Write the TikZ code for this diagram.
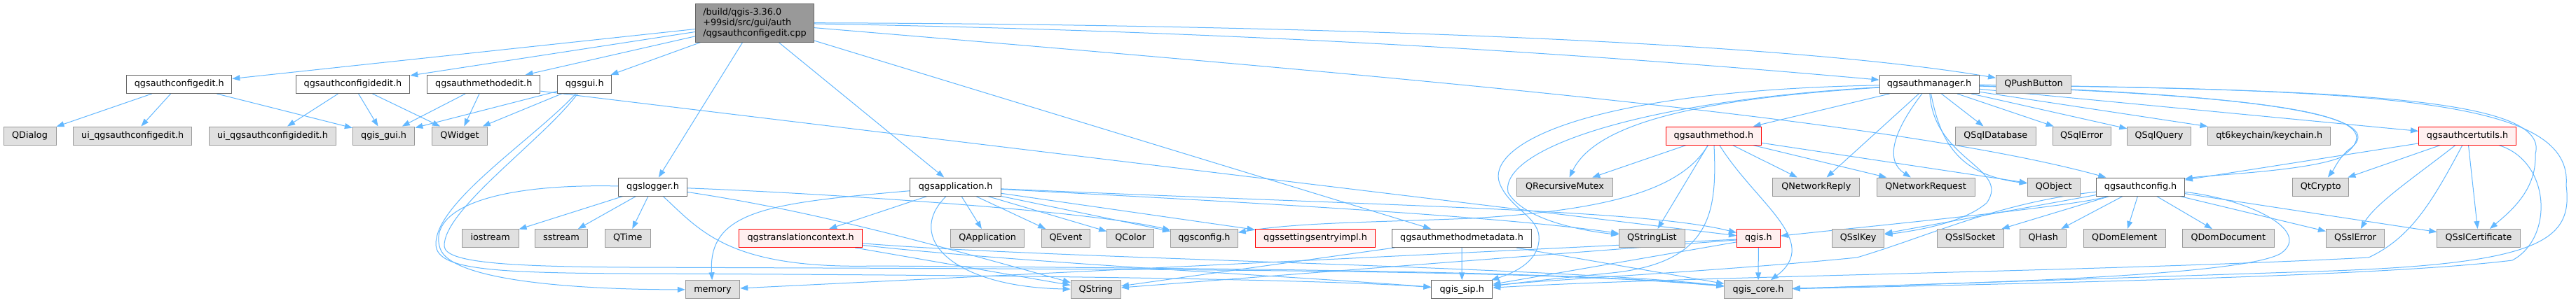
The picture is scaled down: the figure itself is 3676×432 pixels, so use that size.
\documentclass[tikz,border=0pt]{standalone}
\usepackage{fontspec}
\setmainfont{DejaVu Sans}
\usetikzlibrary{arrows.meta}
\definecolor{edgec}{HTML}{63B8FF}
\definecolor{bordsix}{HTML}{666666}
\definecolor{bordnine}{HTML}{999999}
\definecolor{fillgrey}{HTML}{E0E0E0}
\definecolor{fillred}{HTML}{FFF0F0}
\definecolor{rootfill}{HTML}{999999}
\pgfdeclarelayer{edges}
\pgfsetlayers{edges,main}
\tikzset{
  box/.style={draw, line width=1pt, minimum height=26pt, inner sep=0pt,
    text height=9.4pt, text depth=2.6pt, font=\fontsize{12.8}{15}\selectfont},
  doc/.style={box, draw=bordsix, fill=white},
  ext/.style={box, draw=bordnine, fill=fillgrey},
  trunc/.style={box, draw=red, fill=fillred},
  rootn/.style={draw=bordsix, fill=rootfill, line width=1pt, minimum height=55pt,
    minimum width=169pt, inner sep=0pt, align=left, font=\fontsize{12.8}{15}\selectfont},
  dep/.style={draw=edgec, line width=1pt, -{Triangle[length=11pt,width=8pt]}},
}
\begin{document}
\begin{tikzpicture}[x=1pt,y=-1pt]
\useasboundingbox (0,0) rectangle (3676,432);
% row 0
\node[rootn] (root) at (1077,32.5) {/build/qgis-3.36.0\\+99sid/src/gui/auth\\/qgsauthconfigedit.cpp};
% row 1
\node[doc, minimum width=150pt] (cfgedit) at (255.8,120.5) {qgsauthconfigedit.h};
\node[doc, minimum width=162.5pt] (cfgidedit) at (503.5,120.5) {qgsauthconfigidedit.h};
\node[doc, minimum width=161pt] (methedit) at (690.3,120.5) {qgsauthmethodedit.h};
\node[doc, minimum width=77pt] (gui) at (834.2,120.5) {qgsgui.h};
\node[doc, minimum width=142pt] (authmgr) at (2753,120.5) {qgsauthmanager.h};
\node[ext, minimum width=107pt] (pushbtn) at (2902,120.5) {QPushButton};
% row 2
\node[ext, minimum width=75pt] (qdialog) at (42.5,194) {QDialog};
\node[ext, minimum width=169pt] (uicfgedit) at (189.2,194) {ui\_qgsauthconfigedit.h};
\node[ext, minimum width=181pt] (uicfgidedit) at (389,194) {ui\_qgsauthconfigidedit.h};
\node[ext, minimum width=88.5pt] (qgisgui) at (547.6,194) {qgis\_gui.h};
\node[ext, minimum width=79pt] (qwidget) at (656,194) {QWidget};
\node[trunc, minimum width=136pt] (authmethod) at (2445.4,194) {qgsauthmethod.h};
\node[ext, minimum width=115pt] (sqldb) at (2847.8,194) {QSqlDatabase};
\node[ext, minimum width=83pt] (sqlerr) at (2970.6,194) {QSqlError};
\node[ext, minimum width=90.5pt] (sqlquery) at (3081,194) {QSqlQuery};
\node[ext, minimum width=174.6pt] (keychain) at (3238.2,194) {qt6keychain/keychain.h};
\node[trunc, minimum width=139pt] (certutils) at (3521,194) {qgsauthcertutils.h};
% row 3
\node[doc, minimum width=97.7pt] (logger) at (931.5,267) {qgslogger.h};
\node[doc, minimum width=129.6pt] (app) at (1363.7,267) {qgsapplication.h};
\node[ext, minimum width=136.8pt] (recmutex) at (2233,267) {QRecursiveMutex};
\node[ext, minimum width=124pt] (netreply) at (2591.8,267) {QNetworkReply};
\node[ext, minimum width=140pt] (netreq) at (2748,267) {QNetworkRequest};
\node[ext, minimum width=75pt] (qobject) at (2930.7,267) {QObject};
\node[doc, minimum width=125.4pt] (authconfig) at (3054.6,267) {qgsauthconfig.h};
\node[ext, minimum width=80pt] (qtcrypto) at (3311.7,267) {QtCrypto};
% row 4
\node[ext, minimum width=80.7pt] (iostream) at (699.7,340.5) {iostream};
\node[ext, minimum width=74.7pt] (sstream) at (801,340.5) {sstream};
\node[ext, minimum width=65pt] (qtime) at (895.7,340.5) {QTime};
\node[trunc, minimum width=175.7pt] (transctx) at (1142.6,340.5) {qgstranslationcontext.h};
\node[ext, minimum width=105pt] (qapp) at (1409.2,340.5) {QApplication};
\node[ext, minimum width=69.6pt] (qevent) at (1521,340.5) {QEvent};
\node[ext, minimum width=66.8pt] (qcolor) at (1613,340.5) {QColor};
\node[ext, minimum width=95.7pt] (qgsconfig) at (1718.4,340.5) {qgsconfig.h};
\node[trunc, minimum width=171.8pt] (settings) at (1877,340.5) {qgssettingsentryimpl.h};
\node[doc, minimum width=199pt] (metadata) at (2086,340.5) {qgsauthmethodmetadata.h};
\node[ext, minimum width=93.7pt] (qstringlist) at (2357.4,340.5) {QStringList};
\node[trunc, minimum width=62pt] (qgish) at (2509.4,340.5) {qgis.h};
\node[ext, minimum width=74.7pt] (sslkey) at (2651.6,340.5) {QSslKey};
\node[ext, minimum width=94.5pt] (sslsocket) at (2811.8,340.5) {QSslSocket};
\node[ext, minimum width=66pt] (qhash) at (2915.8,340.5) {QHash};
\node[ext, minimum width=117.5pt] (domelem) at (3031.8,340.5) {QDomElement};
\node[ext, minimum width=131pt] (domdoc) at (3179.8,340.5) {QDomDocument};
\node[ext, minimum width=83.2pt] (sslerror) at (3361,340.5) {QSslError};
\node[ext, minimum width=118.5pt] (sslcert) at (3537,340.5) {QSslCertificate};
% row 5
\node[ext, minimum width=77.5pt] (memory) at (1017,413.8) {memory};
\node[ext, minimum width=71.2pt] (qstring) at (1563.8,413.8) {QString};
\node[doc, minimum width=87pt] (sip) at (2086.3,413.8) {qgis\_sip.h};
\node[ext, minimum width=96.5pt] (core) at (2509,413.8) {qgis\_core.h};

\begin{pgfonlayer}{edges}
\fill[white] (0,0) rectangle (3676,432);
% root
\draw[dep] (root) -- (cfgedit);
\draw[dep] (root) -- (cfgidedit);
\draw[dep] (root) -- (methedit);
\draw[dep] (root) -- (gui);
\draw[dep] (root) -- (logger);
\draw[dep] (root) -- (app);
\draw[dep] (root) -- (metadata);
\draw[dep] (root) .. controls (1800,45) and (2300,80) .. (authmgr);
\draw[dep] (root) .. controls (1700,34) and (2500,52) .. (pushbtn);
\draw[dep] (root) .. controls (2000,110) and (2700,170) .. (authconfig);
% left cluster
\draw[dep] (cfgedit) -- (qdialog);
\draw[dep] (cfgedit) -- (uicfgedit);
\draw[dep] (cfgedit) -- (qgisgui);
\draw[dep] (cfgidedit) -- (uicfgidedit);
\draw[dep] (cfgidedit) -- (qgisgui);
\draw[dep] (cfgidedit) -- (qwidget);
\draw[dep] (methedit) -- (qgisgui);
\draw[dep] (methedit) -- (qwidget);
\draw[dep] (methedit) -- (qgish);
\draw[dep] (gui) -- (qgisgui);
\draw[dep] (gui) -- (qwidget);
\draw[dep] (gui) .. controls (760,200) and (620,290) .. (622,350) .. controls (624,385) and (700,390) .. (900,391) .. controls (1500,393) and (1900,400) .. (sip);
\draw[dep] (gui) .. controls (775,200) and (632,300) .. (634,352) .. controls (636,375) and (720,381) .. (900,382) .. controls (1700,385) and (2200,385) .. (core);
% logger
\draw[dep] (logger) -- (iostream);
\draw[dep] (logger) -- (sstream);
\draw[dep] (logger) -- (qtime);
\draw[dep] (logger) .. controls (700,262) and (610,300) .. (628,355) .. controls (645,405) and (850,414) .. (memory);
\draw[dep] (logger) .. controls (1150,275) and (1550,300) .. (qgsconfig);
\draw[dep] (logger) .. controls (1150,300) and (1300,340) .. (qstring);
\draw[dep] (logger) .. controls (1000,330) and (1040,385) .. (1250,380) .. controls (1800,384) and (2250,388) .. (core);
% application
\draw[dep] (app) -- (transctx);
\draw[dep] (app) -- (qapp);
\draw[dep] (app) -- (qevent);
\draw[dep] (app) -- (qcolor);
\draw[dep] (app) -- (qgsconfig);
\draw[dep] (app) -- (settings);
\draw[dep] (app) .. controls (1290,340) and (1360,410) .. (qstring);
\draw[dep] (app) .. controls (1100,290) and (1010,300) .. (memory);
\draw[dep] (app) .. controls (1800,290) and (2150,310) .. (qstringlist);
\draw[dep] (app) .. controls (2000,295) and (2350,300) .. (qgish);
% translation context
\draw[dep] (transctx) -- (qstring);
\draw[dep] (transctx) .. controls (1500,370) and (2200,380) .. (core);
\draw[dep] (transctx) .. controls (1450,375) and (1850,395) .. (sip);
% metadata
\draw[dep] (metadata) -- (sip);
\draw[dep] (metadata) -- (qstring);
\draw[dep] (metadata) -- (core);
% qgis.h
\draw[dep] (qgish) -- (core);
\draw[dep] (qgish) -- (memory);
\draw[dep] (qgish) -- (qstring);
\draw[dep] (qgish) -- (sip);
% auth manager
\draw[dep] (authmgr) -- (authmethod);
\draw[dep] (authmgr) -- (sqldb);
\draw[dep] (authmgr) -- (sqlerr);
\draw[dep] (authmgr) -- (sqlquery);
\draw[dep] (authmgr) -- (keychain);
\draw[dep] (authmgr) -- (certutils);
\draw[dep] (authmgr) -- (netreply);
\draw[dep] (authmgr) .. controls (2700,190) and (2690,230) .. (netreq);
\draw[dep] (authmgr) .. controls (2770,210) and (2800,250) .. (qobject);
\draw[dep] (authmgr) .. controls (2450,140) and (2280,170) .. (recmutex);
\draw[dep] (authmgr) .. controls (2330,145) and (2140,215) .. (2152,275) .. controls (2175,315) and (2260,330) .. (qstringlist);
\draw[dep] (authmgr) .. controls (2250,130) and (2120,210) .. (2140,262) .. controls (2155,300) and (2200,310) .. (2196,345) .. controls (2193,375) and (2160,390) .. (sip);
\draw[dep] (authmgr) .. controls (2760,230) and (2870,240) .. (2835,290) .. controls (2800,320) and (2730,330) .. (sslkey);
\draw[dep] (authmgr) .. controls (3350,128) and (3640,140) .. (3618,220) .. controls (3620,270) and (3585,300) .. (sslcert);
\draw[dep] (authmgr) .. controls (3420,128) and (3672,145) .. (3662,265) .. controls (3672,345) and (3625,378) .. (3300,388) .. controls (3000,398) and (2700,408) .. (core);
\draw[dep] (authmgr) .. controls (3300,138) and (3410,175) .. (3350,215) .. controls (3335,230) and (3332,240) .. (qtcrypto);
\draw[dep] (authmgr) .. controls (3300,140) and (3420,170) .. (3340,225) .. controls (3290,245) and (3150,250) .. (authconfig);
% auth method
\draw[dep] (authmethod) -- (recmutex);
\draw[dep] (authmethod) -- (qstringlist);
\draw[dep] (authmethod) -- (netreply);
\draw[dep] (authmethod) -- (netreq);
\draw[dep] (authmethod) -- (qobject);
\draw[dep] (authmethod) .. controls (2505,290) and (2600,345) .. (core);
\draw[dep] (authmethod) .. controls (2450,300) and (2445,375) .. (2300,390) .. controls (2200,400) and (2160,405) .. (sip);
\draw[dep] (authmethod) .. controls (2400,270) and (2300,300) .. (2100,312) .. controls (1950,318) and (1850,318) .. (qgsconfig);
% auth config
\draw[dep] (authconfig) .. controls (2960,295) and (2700,320) .. (qgish);
\draw[dep] (authconfig) -- (sslkey);
\draw[dep] (authconfig) -- (sslsocket);
\draw[dep] (authconfig) -- (qhash);
\draw[dep] (authconfig) -- (domelem);
\draw[dep] (authconfig) -- (domdoc);
\draw[dep] (authconfig) -- (sslerror);
\draw[dep] (authconfig) -- (sslcert);
\draw[dep] (authconfig) .. controls (3210,285) and (3300,330) .. (3255,362) .. controls (3200,395) and (2800,405) .. (core);
\draw[dep] (authconfig) .. controls (2850,290) and (2760,335) .. (2650,368) .. controls (2450,388) and (2200,400) .. (sip);
% cert utils
\draw[dep] (certutils) -- (qtcrypto);
\draw[dep] (certutils) .. controls (3450,250) and (3390,290) .. (sslerror);
\draw[dep] (certutils) -- (sslcert);
\draw[dep] (certutils) -- (authconfig);
\draw[dep] (certutils) .. controls (3640,230) and (3645,340) .. (3585,372) .. controls (3400,395) and (2900,405) .. (core);
\draw[dep] (certutils) .. controls (3470,290) and (3440,340) .. (3380,368) .. controls (3000,388) and (2400,395) .. (sip);
\end{pgfonlayer}
\end{tikzpicture}
\end{document}
